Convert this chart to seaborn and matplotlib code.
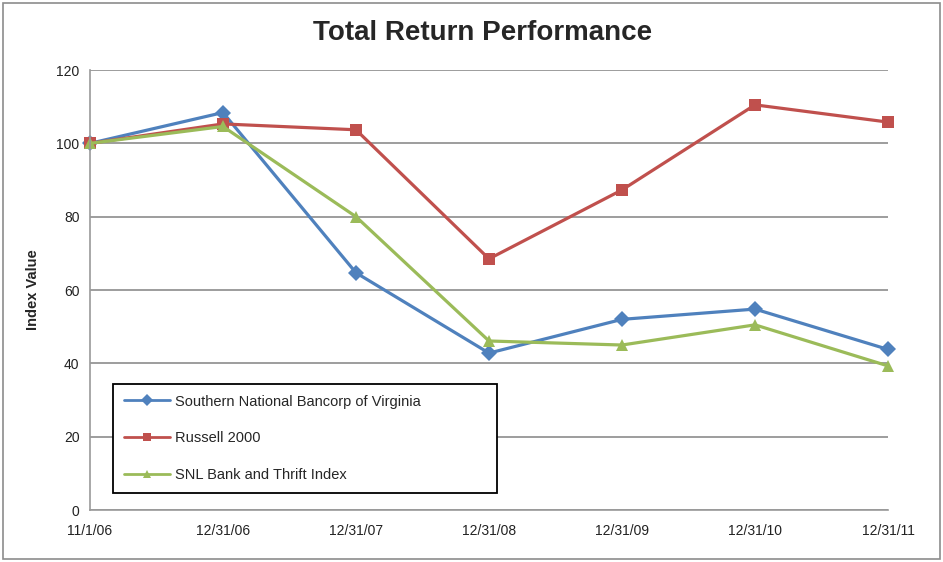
import matplotlib
matplotlib.use("Agg")
import matplotlib.pyplot as plt
import pandas as pd
import seaborn as sns
from matplotlib.patches import Rectangle

# chart values
dates = ["11/1/06", "12/31/06", "12/31/07", "12/31/08", "12/31/09", "12/31/10", "12/31/11"]
southern = [100, 108.4, 64.7, 42.8, 52.0, 54.8, 43.8]
russell = [100, 105.3, 103.7, 68.5, 87.3, 110.5, 105.8]
snl = [100, 104.6, 80.0, 46.1, 45.0, 50.5, 39.3]
series_names = ["Southern National Bancorp of Virginia", "Russell 2000", "SNL Bank and Thrift Index"]

df = pd.concat([
    pd.DataFrame({"date": dates, "value": vals, "series": name})
    for name, vals in zip(series_names, [southern, russell, snl])
])
df["pos"] = df["date"].map({d: i for i, d in enumerate(dates)})

sns.set_style("white")
plt.rcParams["font.family"] = ["Liberation Sans", "DejaVu Sans"]

palette = {series_names[0]: "#4F81BD", series_names[1]: "#C0504D", series_names[2]: "#9BBB59"}
markers = {series_names[0]: "D", series_names[1]: "s", series_names[2]: "^"}

fig = plt.figure(figsize=(9.43, 5.62), dpi=100)
ax = fig.add_axes([0.0954, 0.0925, 0.8463, 0.7829])

sns.lineplot(data=df, x="pos", y="value", hue="series", style="series",
             palette=palette, markers=markers, dashes=False, sort=False,
             linewidth=2.3, markersize=8, markeredgewidth=0, ax=ax)
for line in ax.lines:
    line.set_clip_on(False)

ax.set_xlim(0, len(dates) - 1)
ax.set_ylim(0, 120)
ax.set_yticks(range(0, 121, 20))
ax.set_xticks(range(len(dates)))
ax.set_xticklabels(dates)
ax.yaxis.grid(True, color="#8c8c8c", linewidth=1.2)
ax.set_axisbelow(True)
for s in ["top", "right"]:
    ax.spines[s].set_visible(False)
for s in ["left", "bottom"]:
    ax.spines[s].set_color("#999999")
    ax.spines[s].set_linewidth(1.2)
ax.tick_params(axis="both", colors="#999999", length=4, width=1, labelsize=10, labelcolor="#222222")
ax.tick_params(axis="x", pad=6)
ax.set_xlabel("")
ax.set_ylabel("Index Value", fontsize=10.5, fontweight="bold", labelpad=12)

fig.suptitle("Total Return Performance", x=0.512, y=0.965, fontsize=20, fontweight="bold",
             family=["Liberation Sans Narrow", "Liberation Sans", "DejaVu Sans"])

leg = ax.legend(loc="lower left", bbox_to_anchor=(0.029, 0.039, 0.481, 0.245), mode="expand",
                frameon=True, fancybox=False, fontsize=10.5, labelspacing=1.57, markerscale=0.75,
                handlelength=3.2, handletextpad=0.3, borderpad=0.72, borderaxespad=0)
leg.get_frame().set_edgecolor("black")
leg.get_frame().set_linewidth(1.3)
leg.get_frame().set_alpha(1)
for h in leg.legend_handles:
    h.set_linewidth(2.0)

fig.patches.append(Rectangle((0.003, 0.006), 0.994, 0.988, transform=fig.transFigure,
                             fill=False, edgecolor="#8c8c8c", linewidth=1.2))

fig.savefig("out.png", dpi=100)
